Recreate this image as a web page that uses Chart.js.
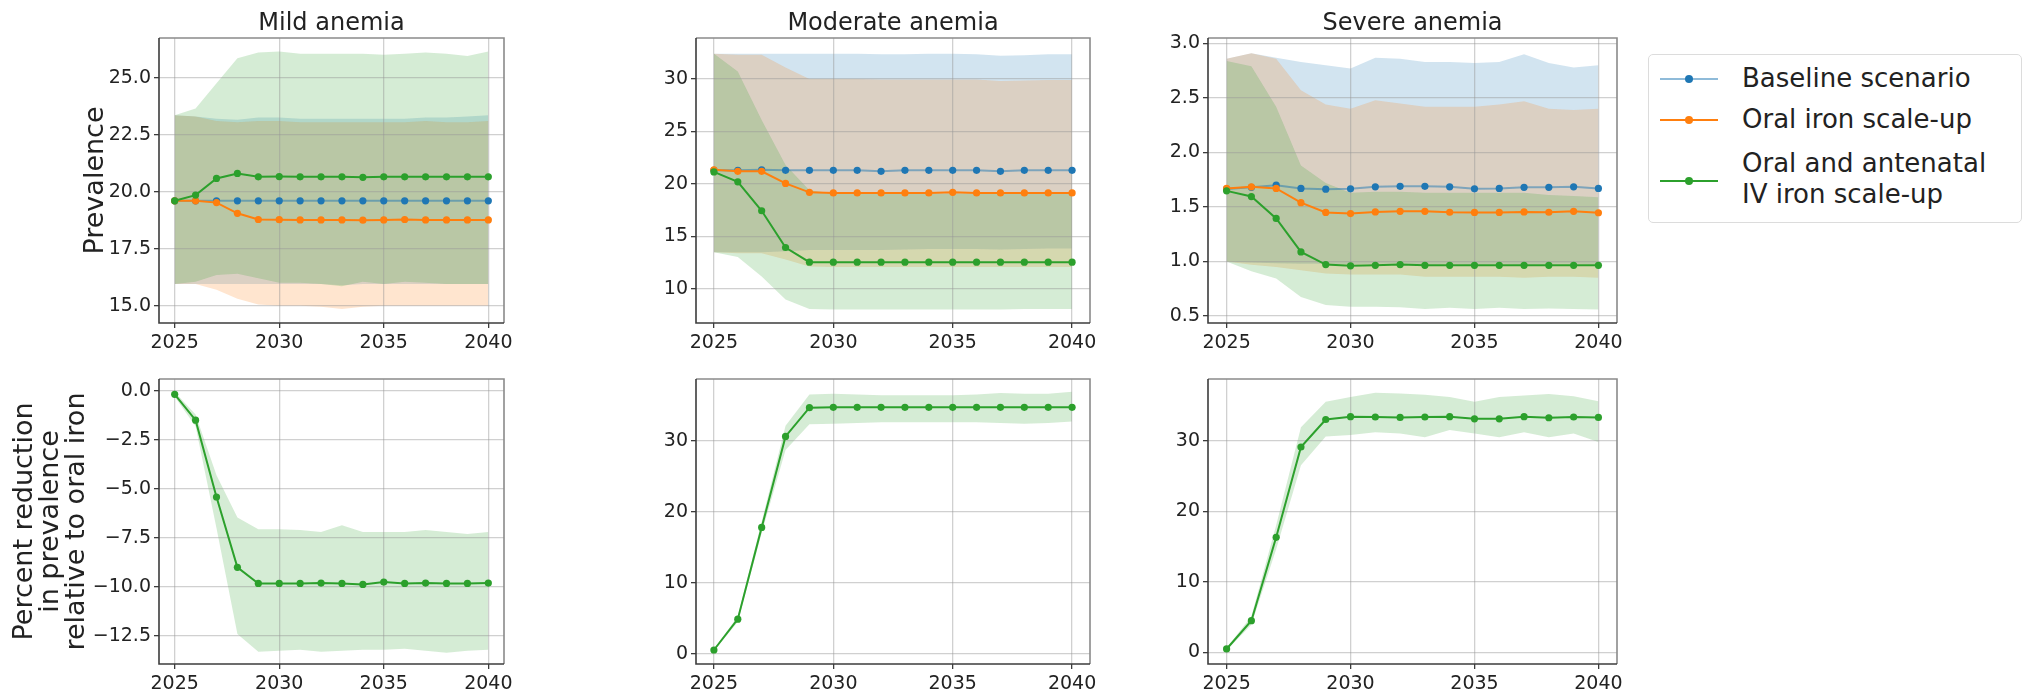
<!DOCTYPE html>
<html>
<head>
<meta charset="utf-8">
<title>Anemia prevalence scenarios</title>
<script src="https://cdn.jsdelivr.net/npm/chart.js@4.4.1/dist/chart.umd.min.js"></script>
<style>
    body { margin: 0; background: #fff; }
    #figure { position: relative; width: 2028px; height: 695px; overflow: hidden; font-family: "DejaVu Sans", sans-serif; color: #222; }
    #figure canvas { position: absolute; }
    .legend { position: absolute; left: 1648px; top: 54px; width: 372px; height: 167px; border: 1px solid #dcdcdc; border-radius: 5px; background: #fff; }
    .legend .handle { position: absolute; left: 11px; width: 58px; height: 2px; }
    .legend .dot { position: absolute; left: 25px; top: -3px; width: 8px; height: 8px; border-radius: 50%; }
    .legend .label { position: absolute; left: 93px; font-size: 26px; line-height: 31px; white-space: nowrap; }
</style>
</head>
<body>
<div id="figure">
    <canvas id="mildPrev"></canvas>
    <canvas id="moderatePrev"></canvas>
    <canvas id="severePrev"></canvas>
    <canvas id="mildRed"></canvas>
    <canvas id="moderateRed"></canvas>
    <canvas id="severeRed"></canvas>

    <div class="legend">
        <div class="handle" style="top:23px;background:rgba(31,119,180,0.5)"><div class="dot" style="background:#1f77b4"></div></div>
        <div class="label" style="top:8px">Baseline scenario</div>
        <div class="handle" style="top:64px;background:#ff7f0e"><div class="dot" style="background:#ff7f0e"></div></div>
        <div class="label" style="top:49px">Oral iron scale-up</div>
        <div class="handle" style="top:125px;background:#2ca02c"><div class="dot" style="background:#2ca02c"></div></div>
        <div class="label" style="top:93px">Oral and antenatal<br>IV iron scale-up</div>
    </div>
</div>

<script>
// =========================================================
// Anemia prevalence by scenario, 2025-2040
// =========================================================

var years = [2025, 2026, 2027, 2028, 2029, 2030, 2031, 2032, 2033, 2034, 2035, 2036, 2037, 2038, 2039, 2040];
var yearTicks = [2025, 2030, 2035, 2040];

// ---------- Mild anemia prevalence (mean, lower, upper) ----------
var mildBase   = [19.60, 19.60, 19.60, 19.60, 19.60, 19.60, 19.60, 19.60, 19.60, 19.60, 19.60, 19.60, 19.60, 19.60, 19.60, 19.60];
var mildBaseLo = [15.95, 15.95, 15.95, 15.95, 15.95, 15.95, 15.95, 15.95, 15.90, 15.95, 15.95, 15.95, 15.95, 15.95, 15.95, 15.95];
var mildBaseHi = [23.35, 23.30, 23.20, 23.15, 23.25, 23.25, 23.20, 23.20, 23.20, 23.20, 23.20, 23.20, 23.25, 23.25, 23.30, 23.35];
var mildOral   = [19.60, 19.60, 19.52, 19.05, 18.78, 18.77, 18.76, 18.76, 18.76, 18.75, 18.76, 18.78, 18.76, 18.76, 18.76, 18.76];
var mildOralLo = [15.95, 15.95, 15.70, 15.30, 15.05, 15.00, 15.00, 14.95, 14.85, 14.95, 15.00, 15.00, 15.00, 15.00, 15.00, 15.00];
var mildOralHi = [23.35, 23.30, 23.10, 23.05, 23.10, 23.10, 23.05, 23.05, 23.05, 23.05, 23.05, 23.05, 23.10, 23.05, 23.05, 23.10];
var mildIv     = [19.60, 19.85, 20.58, 20.80, 20.65, 20.66, 20.65, 20.65, 20.65, 20.63, 20.65, 20.65, 20.65, 20.65, 20.65, 20.65];
var mildIvLo   = [15.95, 16.05, 16.35, 16.40, 16.20, 16.00, 16.00, 15.95, 15.85, 16.05, 15.95, 16.05, 16.00, 15.95, 15.95, 15.95];
var mildIvHi   = [23.35, 23.65, 24.75, 25.85, 26.10, 26.15, 26.05, 26.05, 26.05, 26.05, 26.00, 26.05, 26.10, 26.05, 25.95, 26.15];
var mildPrevTicks = [15, 17.5, 20, 22.5, 25];

// ---------- Moderate anemia prevalence ----------
var modBase    = [21.30, 21.30, 21.35, 21.30, 21.30, 21.30, 21.30, 21.20, 21.30, 21.30, 21.30, 21.30, 21.20, 21.30, 21.30, 21.30];
var modBaseLo  = [13.50, 13.50, 13.50, 13.60, 13.70, 13.70, 13.70, 13.70, 13.75, 13.80, 13.80, 13.80, 13.75, 13.80, 13.85, 13.85];
var modBaseHi  = [32.40, 32.40, 32.40, 32.40, 32.40, 32.40, 32.40, 32.35, 32.35, 32.40, 32.40, 32.35, 32.20, 32.25, 32.35, 32.35];
var modOral    = [21.35, 21.20, 21.20, 20.05, 19.20, 19.15, 19.15, 19.15, 19.15, 19.15, 19.20, 19.15, 19.15, 19.15, 19.15, 19.15];
var modOralLo  = [13.50, 13.40, 13.40, 12.80, 12.15, 12.10, 12.10, 12.10, 12.10, 12.10, 12.10, 12.10, 12.10, 12.10, 12.10, 12.10];
var modOralHi  = [32.40, 32.30, 32.30, 31.10, 30.00, 30.00, 30.00, 29.95, 29.95, 29.95, 29.95, 29.95, 29.80, 29.85, 29.90, 29.90];
var modIv      = [21.15, 20.20, 17.45, 13.95, 12.55, 12.55, 12.55, 12.55, 12.55, 12.55, 12.55, 12.55, 12.55, 12.55, 12.55, 12.55];
var modIvLo    = [13.50, 13.05, 11.20, 9.00, 8.10, 8.05, 8.05, 8.05, 8.05, 8.05, 8.05, 8.05, 8.05, 8.10, 8.10, 8.10];
var modIvHi    = [32.40, 30.70, 26.10, 21.80, 19.40, 19.10, 19.10, 19.10, 19.10, 19.10, 19.10, 19.10, 19.10, 19.10, 19.10, 19.10];
var modPrevTicks = [10, 15, 20, 25, 30];

// ---------- Severe anemia prevalence ----------
var sevBase    = [1.665, 1.680, 1.700, 1.670, 1.663, 1.667, 1.685, 1.690, 1.690, 1.685, 1.667, 1.670, 1.680, 1.680, 1.685, 1.670];
var sevBaseLo  = [1.000, 0.990, 0.985, 0.980, 0.980, 0.975, 0.980, 0.980, 0.975, 0.980, 0.975, 0.980, 0.975, 0.980, 0.980, 0.975];
var sevBaseHi  = [2.860, 2.910, 2.870, 2.830, 2.800, 2.770, 2.870, 2.860, 2.830, 2.830, 2.820, 2.830, 2.900, 2.820, 2.780, 2.800];
var sevOral    = [1.670, 1.685, 1.670, 1.540, 1.450, 1.440, 1.455, 1.460, 1.460, 1.452, 1.450, 1.450, 1.455, 1.452, 1.460, 1.447];
var sevOralLo  = [1.000, 0.970, 0.950, 0.920, 0.890, 0.880, 0.880, 0.880, 0.860, 0.860, 0.860, 0.860, 0.850, 0.860, 0.860, 0.850];
var sevOralHi  = [2.860, 2.910, 2.860, 2.570, 2.440, 2.400, 2.480, 2.450, 2.420, 2.420, 2.420, 2.440, 2.470, 2.400, 2.390, 2.400];
var sevIv      = [1.648, 1.596, 1.395, 1.088, 0.972, 0.960, 0.965, 0.972, 0.965, 0.965, 0.965, 0.965, 0.965, 0.965, 0.965, 0.965];
var sevIvLo    = [1.000, 0.910, 0.845, 0.675, 0.600, 0.585, 0.585, 0.580, 0.565, 0.575, 0.565, 0.575, 0.565, 0.570, 0.565, 0.560];
var sevIvHi    = [2.840, 2.790, 2.420, 1.880, 1.720, 1.630, 1.640, 1.640, 1.630, 1.630, 1.630, 1.630, 1.630, 1.610, 1.600, 1.590];
var sevPrevTicks = [0.5, 1.0, 1.5, 2.0, 2.5, 3.0];

// ---------- Percent reduction relative to oral iron (IV scenario) ----------
var mildRed    = [-0.17, -1.49, -5.41, -9.00, -9.82, -9.82, -9.82, -9.80, -9.82, -9.87, -9.75, -9.82, -9.80, -9.82, -9.82, -9.80];
var mildRedLo  = [-0.30, -1.80, -7.00, -12.40, -13.30, -13.25, -13.20, -13.30, -13.25, -13.20, -13.20, -13.15, -13.25, -13.35, -13.25, -13.20];
var mildRedHi  = [-0.05, -1.20, -4.30, -6.45, -7.05, -7.05, -7.10, -7.20, -6.85, -7.20, -7.20, -7.20, -7.10, -7.20, -7.30, -7.20];
var mildRedTicks = [-12.5, -10, -7.5, -5, -2.5, 0];
var modRed     = [0.56, 4.90, 17.80, 30.60, 34.65, 34.70, 34.70, 34.70, 34.70, 34.70, 34.70, 34.70, 34.70, 34.70, 34.70, 34.70];
var modRedLo   = [0.45, 4.50, 17.00, 28.70, 32.30, 32.40, 32.50, 32.60, 32.60, 32.60, 32.60, 32.60, 32.50, 32.40, 32.50, 32.70];
var modRedHi   = [0.65, 5.30, 18.60, 32.10, 36.50, 36.60, 36.50, 36.40, 36.40, 36.40, 36.40, 36.50, 36.70, 36.60, 36.60, 36.90];
var sevRed     = [0.47, 4.48, 16.30, 29.10, 33.00, 33.40, 33.35, 33.30, 33.35, 33.40, 33.10, 33.10, 33.40, 33.25, 33.35, 33.30];
var sevRedLo   = [0.30, 3.90, 14.60, 26.50, 30.60, 30.80, 31.20, 31.00, 30.50, 31.50, 31.00, 30.50, 31.20, 30.50, 31.00, 29.80];
var sevRedHi   = [0.60, 5.10, 18.00, 31.90, 35.50, 36.20, 36.80, 36.70, 36.50, 36.20, 35.50, 36.20, 36.40, 36.60, 36.30, 35.60];
var redTicks = [0, 10, 20, 30];

// ---------- Shared styling ----------
var BLUE = "31,119,180", ORANGE = "255,127,14", GREEN = "44,160,44";
var TEXT = "#222";
Chart.defaults.font.family = "'DejaVu Sans', sans-serif";

function rgba(rgb, a) { return "rgba(" + rgb + "," + a + ")"; }

function pts(values) {
    return years.map(function (yr, i) { return { x: yr, y: values[i] }; });
}

function fmt(decimals) {
    return function (v) {
        var s = Math.abs(v).toFixed(decimals);
        return (v < -1e-9 ? "\u2212" : "") + s;
    };
}

// fixed tick positions instead of Chart.js' auto stepping
function fixedTicks(values) {
    return function (scale) {
        scale.ticks = values.map(function (v) { return { value: v }; });
    };
}

// matplotlib-like frame: dark left/bottom spines, lighter top/right
var framePlugin = {
    id: "frame",
    afterDraw: function (chart) {
        var a = chart.chartArea, ctx = chart.ctx;
        ctx.save();
        ctx.lineWidth = 1.6;
        ctx.strokeStyle = "#8a8a8a";
        ctx.beginPath();
        ctx.moveTo(a.left, a.top); ctx.lineTo(a.right, a.top); ctx.lineTo(a.right, a.bottom);
        ctx.stroke();
        ctx.strokeStyle = "#3c3c3c";
        ctx.beginPath();
        ctx.moveTo(a.left, a.top); ctx.lineTo(a.left, a.bottom); ctx.lineTo(a.right, a.bottom);
        ctx.stroke();
        ctx.restore();
    }
};

// Each scenario contributes an upper/lower band pair plus its mean line
function buildSets(scenarios) {
    var sets = [];
    scenarios.forEach(function (s, i) {
        sets.push({ data: pts(s.hi), fill: "+1", backgroundColor: rgba(s.rgb, 0.2), borderWidth: 0, pointRadius: 0, order: 6 - i });
        sets.push({ data: pts(s.lo), fill: false, borderWidth: 0, pointRadius: 0, order: 6 - i });
        sets.push({
            data: pts(s.mean), fill: false, order: 3 - i,
            borderColor: rgba(s.rgb, s.lineAlpha), borderWidth: 2,
            pointRadius: 3.6, pointHoverRadius: 0, pointBorderWidth: 0,
            pointBackgroundColor: rgba(s.rgb, 1)
        });
    });
    return sets;
}

function makePanel(p) {
    var canvas = document.getElementById(p.id);
    var left = p.box[0] - p.axisWidth, top = p.box[1] - p.head;
    var w = p.box[2] - left + 40, h = p.box[3] - top + p.foot;
    canvas.width = w; canvas.height = h;
    canvas.style.left = left + "px"; canvas.style.top = top + "px";
    canvas.style.width = w + "px"; canvas.style.height = h + "px";

    var gridOpts = { color: "rgba(150,150,150,0.45)", lineWidth: 1.3, tickColor: "#3c3c3c", tickLength: 5, tickWidth: 1.3 };
    var tickFont = { size: 19 };

    new Chart(canvas, {
        type: "line",
        data: { datasets: buildSets(p.scenarios) },
        options: {
            responsive: false,
            animation: false,
            devicePixelRatio: 1,
            events: [],
            layout: { padding: { top: p.title ? 0 : p.head, right: 40, bottom: 0, left: 0 } },
            plugins: {
                legend: { display: false },
                tooltip: { enabled: false },
                filler: { drawTime: "beforeDraw" },
                title: p.title ? {
                    display: true, text: p.title, fullSize: false, color: TEXT,
                    font: { size: 24, weight: "normal", lineHeight: 1.2 },
                    padding: { top: 9, bottom: p.head - 9 - 28.8 }
                } : { display: false }
            },
            scales: {
                x: {
                    type: "linear", min: 2024.25, max: 2040.75,
                    afterBuildTicks: fixedTicks(yearTicks),
                    ticks: { autoSkip: false, maxRotation: 0, padding: 4, color: TEXT, font: tickFont,
                        callback: function (v) { return String(v); } },
                    grid: gridOpts,
                    border: { display: false },
                    afterFit: function (scale) { scale.height = p.foot; scale.paddingLeft = 0; scale.paddingRight = 0; }
                },
                y: {
                    type: "linear", min: p.yMin, max: p.yMax,
                    afterBuildTicks: fixedTicks(p.ticks),
                    ticks: { autoSkip: false, padding: 3, color: TEXT, font: tickFont,
                        callback: fmt(p.decimals) },
                    grid: gridOpts,
                    border: { display: false },
                    title: p.yTitle ? {
                        display: true, text: p.yTitle.text, color: TEXT,
                        font: { size: 27, lineHeight: p.yTitle.lineHeight },
                        padding: { top: p.yTitle.offset, bottom: 0 }
                    } : { display: false },
                    afterFit: function (scale) { scale.width = p.axisWidth; scale.paddingTop = 0; scale.paddingBottom = 0; }
                }
            }
        },
        plugins: [framePlugin]
    });
}

// ---------- Top row: prevalence ----------
makePanel({
    id: "mildPrev", title: "Mild anemia", box: [159, 38, 504, 323], axisWidth: 159, head: 38, foot: 50,
    yMin: 14.24, yMax: 26.74, ticks: mildPrevTicks, decimals: 1,
    yTitle: { text: "Prevalence", lineHeight: 1.2, offset: 79.4 },
    scenarios: [
        { rgb: BLUE, mean: mildBase, lo: mildBaseLo, hi: mildBaseHi, lineAlpha: 0.5 },
        { rgb: ORANGE, mean: mildOral, lo: mildOralLo, hi: mildOralHi, lineAlpha: 1 },
        { rgb: GREEN, mean: mildIv, lo: mildIvLo, hi: mildIvHi, lineAlpha: 1 }
    ]
});
makePanel({
    id: "moderatePrev", title: "Moderate anemia", box: [696, 38, 1090, 323], axisWidth: 96, head: 38, foot: 50,
    yMin: 6.76, yMax: 33.9, ticks: modPrevTicks, decimals: 0,
    scenarios: [
        { rgb: BLUE, mean: modBase, lo: modBaseLo, hi: modBaseHi, lineAlpha: 0.5 },
        { rgb: ORANGE, mean: modOral, lo: modOralLo, hi: modOralHi, lineAlpha: 1 },
        { rgb: GREEN, mean: modIv, lo: modIvLo, hi: modIvHi, lineAlpha: 1 }
    ]
});
makePanel({
    id: "severePrev", title: "Severe anemia", box: [1208, 38, 1617, 323], axisWidth: 88, head: 38, foot: 50,
    yMin: 0.436, yMax: 3.05, ticks: sevPrevTicks, decimals: 1,
    scenarios: [
        { rgb: BLUE, mean: sevBase, lo: sevBaseLo, hi: sevBaseHi, lineAlpha: 0.5 },
        { rgb: ORANGE, mean: sevOral, lo: sevOralLo, hi: sevOralHi, lineAlpha: 1 },
        { rgb: GREEN, mean: sevIv, lo: sevIvLo, hi: sevIvHi, lineAlpha: 1 }
    ]
});

// ---------- Bottom row: reduction vs oral iron ----------
makePanel({
    id: "mildRed", box: [159, 379, 504, 664], axisWidth: 159, head: 34, foot: 31,
    yMin: -13.93, yMax: 0.61, ticks: mildRedTicks, decimals: 1,
    yTitle: { text: ["Percent reduction", "in prevalence", "relative to oral iron"], lineHeight: 0.97, offset: 11.4 },
    scenarios: [{ rgb: GREEN, mean: mildRed, lo: mildRedLo, hi: mildRedHi, lineAlpha: 1 }]
});
makePanel({
    id: "moderateRed", box: [696, 379, 1090, 664], axisWidth: 96, head: 34, foot: 31,
    yMin: -1.41, yMax: 38.68, ticks: redTicks, decimals: 0,
    scenarios: [{ rgb: GREEN, mean: modRed, lo: modRedLo, hi: modRedHi, lineAlpha: 1 }]
});
makePanel({
    id: "severeRed", box: [1208, 379, 1617, 664], axisWidth: 88, head: 34, foot: 31,
    yMin: -1.66, yMax: 38.74, ticks: redTicks, decimals: 0,
    scenarios: [{ rgb: GREEN, mean: sevRed, lo: sevRedLo, hi: sevRedHi, lineAlpha: 1 }]
});
</script>
</body>
</html>
